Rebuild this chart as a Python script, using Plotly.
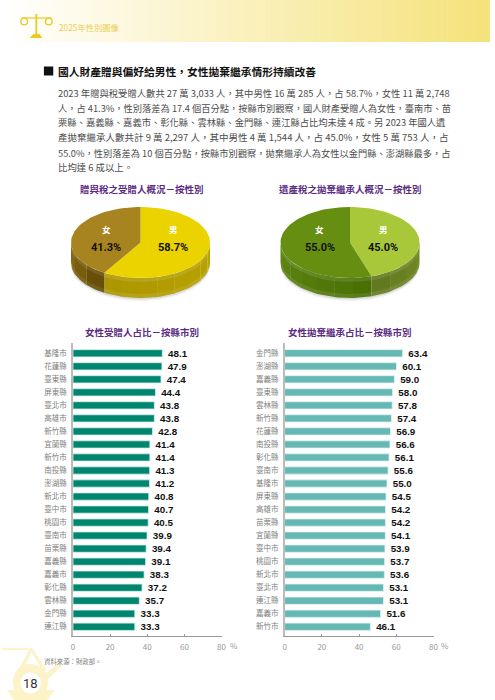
import math
import plotly.graph_objects as go

# ---------- data ----------
gift_counties = ["基隆市","花蓮縣","臺東縣","屏東縣","臺北市","高雄市","新竹縣","宜蘭縣","新竹市","南投縣","澎湖縣",
                 "新北市","臺中市","桃園市","臺南市","苗栗縣","嘉義縣","嘉義市","彰化縣","雲林縣","金門縣","連江縣"]
gift_values = [48.1,47.9,47.4,44.4,43.8,43.8,42.8,41.4,41.4,41.3,41.2,40.8,40.7,40.5,39.9,39.4,39.1,38.3,37.2,35.7,33.3,33.3]
inherit_counties = ["金門縣","澎湖縣","嘉義縣","臺東縣","雲林縣","新竹縣","花蓮縣","南投縣","彰化縣","臺南市","基隆市",
                    "屏東縣","高雄市","苗栗縣","宜蘭縣","臺中市","桃園市","新北市","臺北市","連江縣","嘉義市","新竹市"]
inherit_values = [63.4,60.1,59.0,58.0,57.8,57.4,56.9,56.6,56.1,55.6,55.0,54.5,54.2,54.2,54.1,53.9,53.7,53.6,53.1,53.1,51.6,46.1]
pie_labels = ["男","女"]
gift_share = [58.7,41.3]
inherit_share = [45.0,55.0]
axis_ticks = [0,20,40,60,80]

body_lines = [
 "2023 年贈與稅受贈人數共 27 萬 3,033 人，其中男性 16 萬 285 人，占 58.7%，女性 11 萬 2,748",
 "人，占 41.3%，性別落差為 17.4 個百分點，按縣市別觀察，國人財產受贈人為女性，臺南市、苗",
 "栗縣、嘉義縣、嘉義市、彰化縣、雲林縣、金門縣、連江縣占比均未達 4 成。另 2023 年國人遺",
 "產拋棄繼承人數共計 9 萬 2,297 人，其中男性 4 萬 1,544 人，占 45.0%，女性 5 萬 753 人，占",
 "55.0%，性別落差為 10 個百分點，按縣市別觀察，拋棄繼承人為女性以金門縣、澎湖縣最多，占",
 "比均達 6 成以上。",
]
body_y = [92.7,107.7,122.3,137.3,152.7,167.3]
body_size = [9.33,9.26,9.3,9.5,9.26,9.4]

CJK = "Noto Sans CJK TC"
W, H = 495, 700
fig = go.Figure()

# ---------- page shapes ----------
shapes = []
def rect(x0,y0,x1,y1,c):
    shapes.append(dict(type="rect",xref="x3",yref="y3",x0=x0,x1=x1,y0=y0,y1=y1,fillcolor=c,line_width=0,layer="below"))
def path(p,c,lc=None,lw=0):
    shapes.append(dict(type="path",xref="x3",yref="y3",path=p,fillcolor=c,line=dict(color=lc or c,width=lw),layer="below"))
def circ(cx,cy,r,c,lc=None,lw=0):
    shapes.append(dict(type="circle",xref="x3",yref="y3",x0=cx-r,x1=cx+r,y0=cy-r,y1=cy+r,fillcolor=c,line=dict(color=lc or c,width=lw),layer="below"))

n = 80
for i in range(n):
    t = i/(n-1)
    c = f"rgb({round(255-10*t)},{round(255-29*t)},{round(255-133*t)})"
    rect(W*i/n,0,W*(i+1)/n+0.5,42,c)

GOLD = "#E9CB22"
rect(20,17.4,50,18.6,GOLD); rect(33.9,14,35.7,35,GOLD)
path("M28,38 L41,38 L38,34 L32,34 Z",GOLD)
for cx,off in ((23.5,-1),(46.5,1)):
    path(f"M{cx-7.3},25 A7.3,7.3 0 0 0 {cx+7.3},25 Z",GOLD)
    circ(cx+off,21.5,3.4,"rgba(0,0,0,0)",GOLD,1.4)

PALE = "#FCF3C8"
rect(0,648.2,28,650,PALE)
path("M28,649 L11,680 L15,682 L30,652 L42,672 L45,670 L30,647 Z",PALE)
path("M40,677 L58,662 L60,666 L44,682 Z",PALE)
circ(29,682,18,PALE)
path("M5,690 L53,690 L46,700 L12,700 Z",PALE)
circ(29,683,10.5,"white")
rect(42.5,66.5,52,75.5,"#111111")

# ---------- bars ----------
def bars(counties, values, colour, halo, xa, ya):
    fig.add_trace(go.Bar(y=counties, x=values, orientation="h", xaxis=xa, yaxis=ya,
        marker=dict(color=colour, line=dict(color=halo, width=0.8)),
        text=[f" {v:.1f}" for v in values], textposition="outside", cliponaxis=False,
        textangle=0, constraintext="none",
        textfont=dict(family="Liberation Sans", size=9.8, color="#111111", weight="bold"),
        hoverinfo="skip", showlegend=False))
bars(gift_counties, gift_values, "#00866F", "#D5F0EA", "x", "y")
bars(inherit_counties, inherit_values, "#66B8B4", "#DFF3F1", "x2", "y2")

# ---------- pies: computed from the shares ----------
RX, RY, CY, DEPTH = 70.5, 35.5, 242.5, 20
def pt(cx, deg, dy=0):
    a = math.radians(deg)
    return cx+RX*math.sin(a), CY-RY*math.cos(a)+dy
def poly(xs, ys, colour):
    fig.add_trace(go.Scatter(x=xs, y=ys, xaxis="x3", yaxis="y3", mode="lines", fill="toself",
        fillcolor=colour, line=dict(width=0), hoverinfo="skip", showlegend=False))
def arc(cx, a0, a1, dy=0):
    k = max(2, int(abs(a1-a0)/3)+1)
    return [pt(cx, a0+(a1-a0)*i/(k-1), dy) for i in range(k)]
def lerp(c0, c1, t):
    return "rgb(%d,%d,%d)" % tuple(round(c0[i]+(c1[i]-c0[i])*t) for i in range(3))
def band(cx, a0, a1, d0, d1, colour):
    top = arc(cx, a0, a1, d0); bot = arc(cx, a1, a0, d1)
    p = top+bot+[top[0]]
    poly([q[0] for q in p],[q[1] for q in p],colour)

def pie(cx, shares, faces, walls):
    for off, c in ((3.0,"rgba(120,120,120,0.10)"),(1.5,"rgba(120,120,120,0.18)")):
        band(cx, 92, 268, DEPTH-2, DEPTH+off, c)
    edges = [0, shares[0]*3.6, 360]
    for j in range(2):
        a0, a1 = max(edges[j],90), min(edges[j+1],270)
        if a1 <= a0: continue
        segs = max(1, int((a1-a0)/15))
        for s in range(segs):
            b0 = a0+(a1-a0)*s/segs; b1 = a0+(a1-a0)*(s+1)/segs
            band(cx, b0, b1+(0.3 if s<segs-1 else 0), 0, DEPTH, lerp(walls[j][0], walls[j][1], (s+0.5)/segs))
    band(cx, 90, 270, 0, 4, "rgba(255,255,255,0.10)")
    band(cx, 90, 270, DEPTH-4, DEPTH, "rgba(255,255,255,0.09)")
    for j in range(2):
        p = [(cx,CY)]+arc(cx, edges[j], edges[j+1])+[(cx,CY)]
        poly([q[0] for q in p],[q[1] for q in p],faces[j])

pie(140.5, gift_share, ["#EBD300","#A88420"],
    [((186,164,0),(172,150,0)), ((96,72,4),(140,112,20))])
pie(353, inherit_share, ["#A8C83A","#668F12"],
    [((116,140,38),(96,120,30)), ((72,110,4),(96,136,20))])

# ---------- layout ----------
def xax(d):
    return dict(domain=d, range=[0,80], tickvals=axis_ticks, ticks="inside", ticklen=2.5, tickcolor="#999999",
        ticklabelstandoff=3, tickfont=dict(family=CJK,size=8,color="#999999"), showgrid=False, zeroline=False,
        showline=True, linecolor="#999999", linewidth=1, fixedrange=True)
def yax(cats):
    return dict(domain=[1-636/H,1-343/H], type="category", categoryorder="array", categoryarray=cats,
        range=[21.71,-0.79], showgrid=False, zeroline=False, showline=True, linecolor="#BBBBBB", linewidth=1.5,
        ticks="", ticklabelstandoff=3, tickfont=dict(family=CJK,size=7.5,color="#808080"), fixedrange=True)

ann = []
def txt(x,y,s,size,color,anchor="center",weight="normal",family=CJK):
    ann.append(dict(xref="x3",yref="y3",x=x-(2 if anchor=="left" else 0),y=y,text=s,showarrow=False,xanchor=anchor,yanchor="middle",
        font=dict(family=family,size=size,color=color,weight=weight)))

txt(58,27,"2025年性別圖像",8.3,"#E9CF55","left")
txt(57,71,"國人財產贈與偏好給男性，女性拋棄繼承情形持續改善",10.75,"#111111","left","bold")
for s,y,z in zip(body_lines,body_y,body_size):
    txt(57,y,s,z,"#4D4D4D","left")
PURPLE = "#5B2C83"
txt(141.7,189,"贈與稅之受贈人概況－按性別",9.5,PURPLE,weight="bold")
txt(353,189,"遺產稅之拋棄繼承人概況－按性別",9.5,PURPLE,weight="bold")
txt(141.7,332,"女性受贈人占比－按縣市別",9.5,PURPLE,weight="bold")
txt(353,332,"女性拋棄繼承占比－按縣市別",9.5,PURPLE,weight="bold")
NARROW = "Roboto"
for xm, xf, sh in ((173.7,105.7,gift_share),(386.5,322.3,inherit_share)):
    txt(xm,229,pie_labels[0],8.5,"white",weight="bold")
    txt(xf,229,pie_labels[1],8.5,"white",weight="bold")
    txt(xm,247,f"{sh[0]:.1f}%",11,"#111111",weight="bold",family=NARROW)
    txt(xf,247,f"{sh[1]:.1f}%",11,"#111111",weight="bold",family=NARROW)
txt(235,645.5,"%",8,"#999999")
txt(449,645.5,"%",8,"#999999")
txt(43,661,"資料來源：財政部。",6.4,"#808080","left")
txt(29,683,"18",13,"#333333",family="Roboto")

fig.update_layout(
    width=W, height=H, margin=dict(l=0,r=0,t=0,b=0), paper_bgcolor="white", plot_bgcolor="rgba(0,0,0,0)",
    showlegend=False, barmode="overlay", bargap=0.44, shapes=shapes, annotations=ann,
    xaxis=dict(xax([72/W,222.7/W]),anchor="y"), yaxis=dict(yax(gift_counties),anchor="x"),
    xaxis2=dict(xax([286.7/W,437.7/W]),anchor="y2"), yaxis2=dict(yax(inherit_counties),anchor="x2"),
    xaxis3=dict(domain=[0,1],range=[0,W],visible=False,fixedrange=True,anchor="y3"),
    yaxis3=dict(domain=[0,1],range=[H,0],visible=False,fixedrange=True,anchor="x3"),
)
fig.write_html("out.html", config=dict(displayModeBar=False),
               post_script="document.body.style.margin='0';document.documentElement.style.overflow='hidden';")
